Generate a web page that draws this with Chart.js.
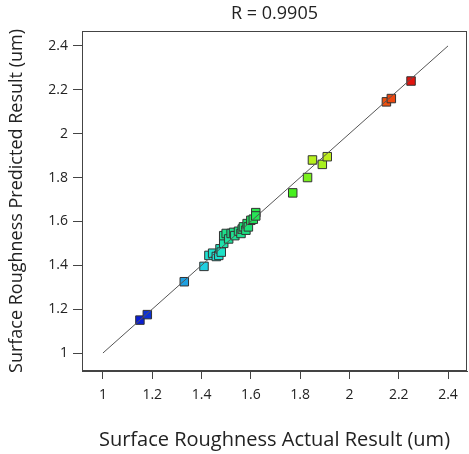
<!DOCTYPE html>
<html>
<head>
<meta charset="utf-8">
<script src="https://cdn.jsdelivr.net/npm/chart.js@4"></script>
<style>
  body { margin: 0; background: #fff; }
  canvas { display: block; }
</style>
</head>
<body>
<canvas id="myChart" width="469" height="454"></canvas>
<script>
// actual vs predicted surface roughness (um)
var actual = [1.15, 1.18, 1.33, 1.41, 1.43, 1.445, 1.46, 1.47, 1.475, 1.48,
              1.49, 1.49, 1.50, 1.51, 1.52, 1.53, 1.535, 1.55, 1.56, 1.565,
              1.57, 1.58, 1.585, 1.59, 1.60, 1.61, 1.62, 1.62,
              1.77, 1.83, 1.85, 1.89, 1.91, 2.15, 2.17, 2.25];
var predicted = [1.15, 1.175, 1.325, 1.395, 1.445, 1.455, 1.44, 1.445, 1.475, 1.46,
                 1.50, 1.535, 1.545, 1.52, 1.545, 1.55, 1.535, 1.555, 1.545, 1.565,
                 1.575, 1.56, 1.59, 1.575, 1.605, 1.61, 1.64, 1.625,
                 1.73, 1.80, 1.88, 1.86, 1.895, 2.145, 2.16, 2.24];
// the y = x reference line
var lineX = [1, 2.4];
var lineY = [1, 2.4];
var titleText = "R = 0.9905";
var xTitle = "Surface Roughness Actual Result (um)";
var yTitle = "Surface Roughness Predicted Result (um)";

// colour ramp, blue -> cyan -> green -> yellow -> red
var stops = [
  [0.00, [10, 30, 210]],
  [0.16, [30, 160, 225]],
  [0.25, [30, 225, 225]],
  [0.40, [30, 225, 110]],
  [0.52, [60, 240, 30]],
  [0.68, [190, 240, 30]],
  [0.90, [240, 90, 15]],
  [1.00, [225, 20, 15]]
];
function rampColor(v) {
  var lo = Math.min.apply(null, predicted), hi = Math.max.apply(null, predicted);
  var t = (v - lo) / (hi - lo);
  for (var i = 1; i < stops.length; i++) {
    if (t <= stops[i][0]) {
      var a = stops[i - 1], b = stops[i];
      var f = (t - a[0]) / (b[0] - a[0]);
      var c = a[1].map(function(x, k) { return Math.round(x + (b[1][k] - x) * f); });
      return "rgb(" + c.join(",") + ")";
    }
  }
  return "rgb(" + stops[stops.length - 1][1].join(",") + ")";
}

var points = actual.map(function(x, i) { return {x: x, y: predicted[i]}; });
var linePts = lineX.map(function(x, i) { return {x: x, y: lineY[i]}; });

// box round the plot area
var frame = {
  id: "frame",
  afterDraw: function(chart) {
    var a = chart.chartArea, ctx = chart.ctx;
    ctx.save();
    ctx.strokeStyle = "#444";
    ctx.lineWidth = 1;
    ctx.strokeRect(Math.round(a.left) + 0.5, Math.round(a.top) + 0.5,
                   Math.round(a.right - a.left) - 1, Math.round(a.bottom - a.top) - 1);
    ctx.restore();
  }
};

var fontName = "'Open Sans', sans-serif";
function fmt(v) { return Number(v.toFixed(1)).toString(); }

var ctx = document.getElementById("myChart").getContext("2d");
var myChart = new Chart(ctx, {
  type: "scatter",
  data: {
    datasets: [
      {
        type: "line",
        data: linePts,
        borderColor: "#555",
        borderWidth: 1,
        pointRadius: 0,
        fill: false
      },
      {
        data: points,
        pointStyle: "rect",
        pointRadius: 6,
        backgroundColor: predicted.map(rampColor),
        borderColor: "#333",
        borderWidth: 1
      }
    ]
  },
  plugins: [frame],
  options: {
    responsive: false,
    animation: false,
    layout: { autoPadding: false, padding: { right: 2 } },
    plugins: {
      legend: { display: false },
      tooltip: { enabled: false },
      title: {
        display: true,
        text: titleText,
        fullSize: false,
        color: "#222",
        font: { family: fontName, size: 18, weight: "normal" },
        padding: { top: 3, bottom: 6.4 }
      }
    },
    scales: {
      x: {
        type: "linear",
        min: 0.915,
        max: 2.477,
        afterFit: function(s) { s.height = 83; },
        ticks: {
          stepSize: 0.2,
          includeBounds: false,
          color: "#222",
          padding: 8,
          font: { family: fontName, size: 14 },
          callback: fmt
        },
        grid: { drawOnChartArea: false, tickLength: 8, color: "#444" },
        border: { display: true, color: "#444" },
        title: {
          display: true,
          text: xTitle,
          color: "#222",
          font: { family: fontName, size: 20 },
          padding: { top: 0, bottom: 2 }
        }
      },
      y: {
        type: "linear",
        min: 0.918,
        max: 2.468,
        afterFit: function(s) { s.width = 82; },
        ticks: {
          stepSize: 0.2,
          includeBounds: false,
          color: "#222",
          padding: 5,
          font: { family: fontName, size: 14 },
          callback: fmt
        },
        grid: { drawOnChartArea: false, tickLength: 9, color: "#444" },
        border: { display: true, color: "#444" },
        title: {
          display: true,
          text: yTitle,
          color: "#222",
          font: { family: fontName, size: 18 },
          padding: { top: 6, bottom: 0 }
        }
      }
    }
  }
});
</script>
</body>
</html>
